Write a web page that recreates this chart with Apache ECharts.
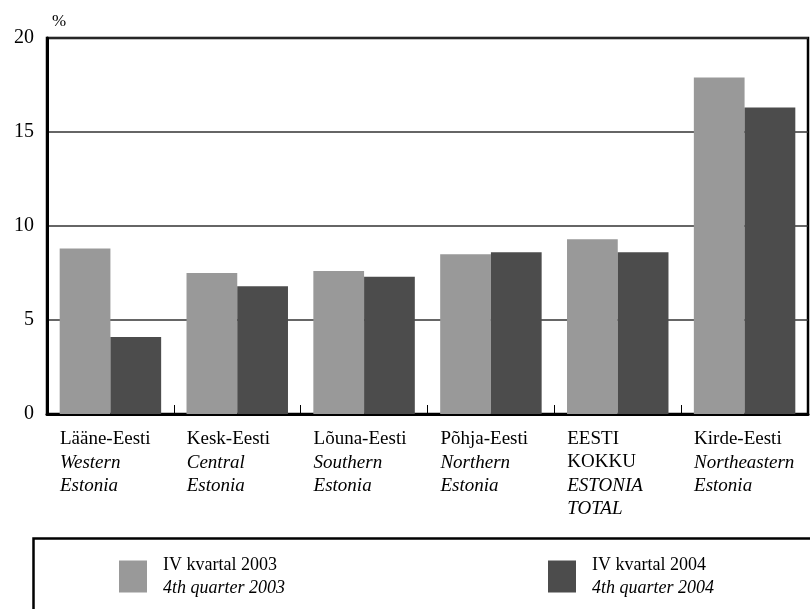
<!DOCTYPE html>
<html><head><meta charset="utf-8">
<script src="https://cdn.jsdelivr.net/npm/echarts@6/dist/echarts.min.js"></script>
<style>html,body{margin:0;padding:0;background:#fff}#c{width:810px;height:609px}</style>
</head><body><div id="c"></div>
<script>
const categoriesEt = ['Lääne-Eesti', 'Kesk-Eesti', 'Lõuna-Eesti', 'Põhja-Eesti', 'EESTI\nKOKKU', 'Kirde-Eesti'];
const categoriesEn = ['Western\nEstonia', 'Central\nEstonia', 'Southern\nEstonia', 'Northern\nEstonia', 'ESTONIA\nTOTAL', 'Northeastern\nEstonia'];
const values2003 = [8.8, 7.5, 7.6, 8.5, 9.3, 17.9];
const values2004 = [4.1, 6.8, 7.3, 8.6, 8.6, 16.3];
const seriesEt = ['IV kvartal 2003', 'IV kvartal 2004'];
const seriesEn = ['4th quarter 2003', '4th quarter 2004'];
const yTicks = [0, 5, 10, 15, 20];

const FONT = 'Liberation Serif';
const chart = echarts.init(document.getElementById('c'), null, {renderer: 'canvas'});
const labelKeys = categoriesEt.map((e, i) => String(i));
const legendNames = seriesEt;

chart.setOption({
  animation: false,
  textStyle: {fontFamily: FONT},
  grid: {left: 47, right: 2, top: 38, bottom: 195, show: true, borderColor: '#000', borderWidth: 2.5},
  xAxis: {
    type: 'category',
    data: labelKeys,
    axisLine: {lineStyle: {color: '#000', width: 3}},
    axisTick: {show: true, inside: true, length: 9, lineStyle: {color: '#000', width: 1}},
    axisLabel: {
      interval: 0,
      margin: 14,
      width: 101,
      align: 'center',
      verticalAlign: 'top',
      formatter: function (v) {
        const i = +v;
        const et = categoriesEt[i].split('\n').map(s => '{a|' + s + '}');
        const en = categoriesEn[i].split('\n').map(s => '{b|' + s + '}');
        return et.concat(en).join('\n');
      },
      rich: {
        a: {fontFamily: FONT, fontSize: 19, color: '#000', lineHeight: 23, align: 'left'},
        b: {fontFamily: FONT, fontSize: 19, fontStyle: 'italic', color: '#000', lineHeight: 23, align: 'left'}
      }
    }
  },
  yAxis: {
    type: 'value',
    min: 0, max: 20, interval: 5,
    name: '%',
    nameLocation: 'end',
    nameGap: 8,
    nameTextStyle: {fontFamily: FONT, fontSize: 17, color: '#000', align: 'left', padding: [0, 0, 0, 5]},
    axisLine: {show: true, lineStyle: {color: '#000', width: 3}},
    axisTick: {show: false},
    axisLabel: {fontFamily: FONT, fontSize: 20, color: '#000', margin: 13,
      formatter: v => yTicks.includes(v) ? String(v) : ''},
    splitLine: {show: true, lineStyle: {color: '#333', width: 1.5}}
  },
  legend: {
    left: 114, top: 551,
    itemWidth: 28, itemHeight: 32, itemGap: 263,
    icon: 'rect',
    data: legendNames,
    formatter: function (n) {
      const i = seriesEt.indexOf(n);
      return '{a|' + seriesEt[i] + '}\n{b|' + seriesEn[i] + '}';
    },
    textStyle: {
      padding: [0, 0, 0, 11],
      rich: {
        a: {fontFamily: FONT, fontSize: 18, color: '#000', lineHeight: 23},
        b: {fontFamily: FONT, fontSize: 18, fontStyle: 'italic', color: '#000', lineHeight: 23}
      }
    }
  },
  graphic: [{
    type: 'rect', left: 31, top: 536, silent: true,
    shape: {width: 790, height: 90},
    style: {fill: 'none', stroke: '#000', lineWidth: 2.5}
  }],
  series: [
    {name: seriesEt[0], type: 'bar', data: values2003, barGap: '0%', barCategoryGap: '20%',
     itemStyle: {color: '#999999'}},
    {name: seriesEt[1], type: 'bar', data: values2004, barGap: '0%', barCategoryGap: '20%',
     itemStyle: {color: '#4c4c4c'}}
  ]
});
</script></body></html>
